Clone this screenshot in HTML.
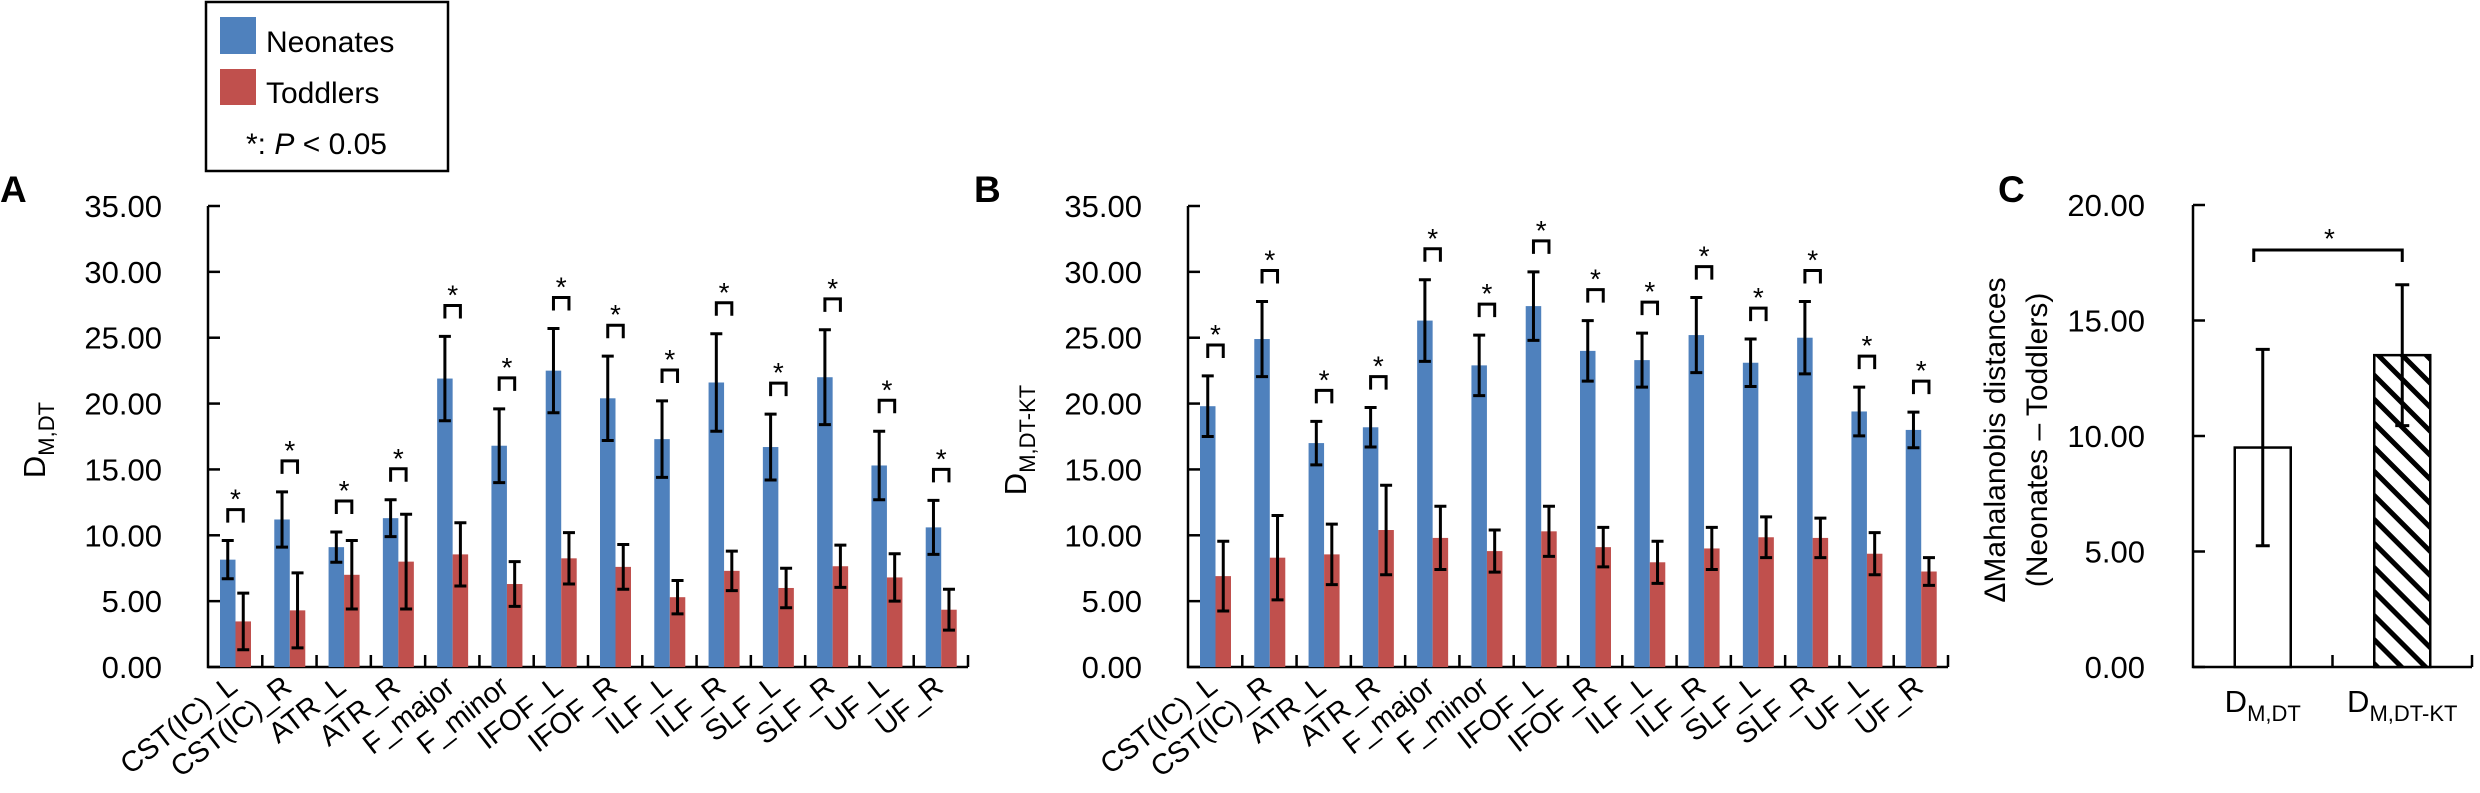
<!DOCTYPE html>
<html><head><meta charset="utf-8"><style>
html,body{margin:0;padding:0;background:#fff;}
svg{display:block;font-family:"Liberation Sans",Arial,sans-serif;}
</style></head><body>
<svg id="fig" width="2480" height="793" viewBox="0 0 2480 793" xmlns="http://www.w3.org/2000/svg">
<defs>
<pattern id="hatch" patternUnits="userSpaceOnUse" width="17" height="17" patternTransform="rotate(-45)">
<rect width="17" height="17" fill="#fff"/><rect x="0" y="0" width="5" height="17" fill="#000"/>
</pattern>
</defs>
<g>
<rect x="206" y="2" width="242" height="169" fill="#fff" stroke="#000" stroke-width="2.5"/>
<rect x="220" y="17" width="36" height="37" fill="#4f81bd"/>
<text x="266" y="52" font-size="30">Neonates</text>
<rect x="220" y="69" width="36" height="36" fill="#c0504d"/>
<text x="266" y="103" font-size="30">Toddlers</text>
<text x="246" y="154" font-size="30">*: <tspan font-style="italic">P</tspan> &lt; 0.05</text>
</g>
<g id="panels"></g>
</svg>
<script>
const tracts = ["CST(IC)_L","CST(IC)_R","ATR_L","ATR_R","F_major","F_minor","IFOF_L","IFOF_R","ILF_L","ILF_R","SLF_L","SLF_R","UF_L","UF_R"];
const yTicksAB = [0,5,10,15,20,25,30,35];
const aNeonates = [8.15,11.2,9.1,11.3,21.9,16.8,22.5,20.4,17.3,21.6,16.7,22.0,15.3,10.6];
const aNeonatesErr = [1.45,2.1,1.15,1.4,3.2,2.8,3.2,3.2,2.9,3.7,2.5,3.6,2.6,2.05];
const aToddlers = [3.46,4.3,7.0,8.0,8.55,6.3,8.25,7.6,5.3,7.3,6.0,7.65,6.8,4.35];
const aToddlersErr = [2.15,2.85,2.6,3.6,2.4,1.7,1.95,1.7,1.27,1.5,1.5,1.6,1.8,1.55];
const bNeonates = [19.8,24.9,17.0,18.2,26.3,22.9,27.4,24.0,23.3,25.2,23.1,25.0,19.4,18.0];
const bNeonatesErr = [2.3,2.85,1.65,1.5,3.1,2.3,2.6,2.3,2.05,2.85,1.8,2.75,1.85,1.35];
const bToddlers = [6.9,8.3,8.55,10.4,9.8,8.8,10.3,9.1,7.95,9.0,9.85,9.8,8.6,7.25];
const bToddlersErr = [2.65,3.2,2.3,3.4,2.4,1.6,1.9,1.5,1.6,1.6,1.55,1.5,1.6,1.05];
const cCategories = ["M,DT","M,DT-KT"];
const cValues = [9.5,13.5];
const cErr = [4.25,3.05];
const yTicksC = [0,5,10,15,20];

const NS = "http://www.w3.org/2000/svg";
const root = document.getElementById('panels');
function mk(tag, attrs, parent, text){
  const e = document.createElementNS(NS, tag);
  for (const k in attrs) e.setAttribute(k, attrs[k]);
  if (text !== undefined) e.textContent = text;
  (parent||root).appendChild(e);
  return e;
}
const Y0 = 667;

function barPanel(opt){
  const g = mk('g', {});
  
  
  const x0 = opt.x0, x1 = opt.x0 + 760;
  const yScale = v => Y0 - v * (461/35);
  const gw = (x1 - x0) / tracts.length;
  const ax = mk('path', {d:`M${x0},${yScale(35)} V${Y0} H${x1}`, fill:'none', stroke:'#000', 'stroke-width':2.5}, g);
  
  
  yTicksAB.forEach(t => {
    const y = yScale(t);
    const tk = mk('line', {x1:x0, x2:x0+12, y1:y, y2:y, stroke:'#000', 'stroke-width':2.5}, g);
    
    
    const lb = mk('text', {x:x0-46, y:y+11, 'font-size':31, 'text-anchor':'end'}, g, t.toFixed(2));
    
    
  });
  for (let i=1;i<=tracts.length;i++){
    const x = x0 + i*gw;
    const tk = mk('line', {x1:x, x2:x, y1:Y0, y2:Y0-12, stroke:'#000', 'stroke-width':2.5}, g);
    
    
  }
  const bw = 15.5;
  tracts.forEach((name, i) => {
    const gs = x0 + i*gw;
    const series = [[opt.neo[i], opt.neoErr[i], '#4f81bd', gs+12, 'bar-neonates'], [opt.tod[i], opt.todErr[i], '#c0504d', gs+12+bw, 'bar-toddlers']];
    let topMax = 0;
    const centers = [];
    series.forEach(s => {
      const [v, e, col, bx, nm] = s;
      const r = mk('rect', {x:bx, y:yScale(v), width:bw, height:Y0-yScale(v), fill:col}, g);
      
      
      const cx = bx + bw/2;
      centers.push(cx);
      const yt = yScale(v+e), yb = yScale(v-e);
      const eb = mk('path', {d:`M${cx},${yt} V${yb} M${cx-6},${yt} H${cx+6} M${cx-6},${yb} H${cx+6}`, stroke:'#000', 'stroke-width':3, fill:'none'}, g);
      
      
      topMax = Math.max(topMax, v+e);
    });
    const by = yScale(topMax + 2.35);
    const br = mk('path', {d:`M${centers[0]},${by+13} V${by} H${centers[1]} V${by+13}`, stroke:'#000', 'stroke-width':3, fill:'none'}, g);
    
    
    const st = mk('text', {x:(centers[0]+centers[1])/2, y:by-1, 'font-size':28, 'text-anchor':'middle'}, g, '*');
    
    
    const cx = gs + gw/2 + 4;
    const xl = mk('text', {x:cx, y:690, 'font-size':29, 'text-anchor':'end', transform:`rotate(-38 ${cx} 690)`}, g, name);
    
    
  });
  const pl = mk('text', {x:opt.letterX, y:202, 'font-size':37, 'font-weight':'bold'}, g, opt.letter);
  
  
  const yt = mk('text', {x:0, y:0, 'font-size':31, 'text-anchor':'middle', transform:`translate(${opt.titleX} 440) rotate(-90)`}, g);
  
  
  mk('tspan', {}, yt, 'D');
  mk('tspan', {'font-size':22, dy:9}, yt, opt.sub);
}
barPanel({name:'panel-a', x0:208, neo:aNeonates, neoErr:aNeonatesErr, tod:aToddlers, todErr:aToddlersErr, letter:'A', letterX:0, titleX:45, sub:'M,DT'});
barPanel({name:'panel-b', x0:1188, neo:bNeonates, neoErr:bNeonatesErr, tod:bToddlers, todErr:bToddlersErr, letter:'B', letterX:974, titleX:1026, sub:'M,DT-KT'});

(function(){
  const g = mk('g', {});
  
  
  const x0 = 2193, x1 = 2472;
  const yScale = v => Y0 - v * (462/20);
  const cw = (x1-x0)/cCategories.length;
  const ax = mk('path', {d:`M${x0},${yScale(20)} V${Y0} H${x1}`, fill:'none', stroke:'#000', 'stroke-width':2.5}, g);
  
  
  yTicksC.forEach(t => {
    const y = yScale(t);
    const tk = mk('line', {x1:x0, x2:x0+12, y1:y, y2:y, stroke:'#000', 'stroke-width':2.5}, g);
    
    
    const lb = mk('text', {x:2145, y:y+11, 'font-size':31, 'text-anchor':'end'}, g, t.toFixed(2));
    
    
  });
  for (let i=1;i<=cCategories.length;i++){
    const x = x0 + i*cw;
    const tk = mk('line', {x1:x, x2:x, y1:Y0, y2:Y0-12, stroke:'#000', 'stroke-width':2.5}, g);
    
    
  }
  const centers = [];
  cCategories.forEach((c, i) => {
    const cx = x0 + (i+0.5)*cw;
    centers.push(cx);
    const v = cValues[i], e = cErr[i];
    const r = mk('rect', {x:cx-28, y:yScale(v), width:56, height:Y0-yScale(v), fill: i===0 ? '#fff' : 'url(#hatch)', stroke:'#000', 'stroke-width':2.5}, g);
    
    
    const yt = yScale(v+e), yb = yScale(v-e);
    const eb = mk('path', {d:`M${cx},${yt} V${yb} M${cx-7},${yt} H${cx+7} M${cx-7},${yb} H${cx+7}`, stroke:'#000', 'stroke-width':3, fill:'none'}, g);
    
    
    const xl = mk('text', {x:cx, y:712, 'font-size':31, 'text-anchor':'middle'}, g);
    
    
    mk('tspan', {}, xl, 'D');
    mk('tspan', {'font-size':22, dy:9}, xl, c);
  });
  const br = mk('path', {d:`M${centers[0]-9},262 V250 H${centers[1]} V262`, stroke:'#000', 'stroke-width':3, fill:'none'}, g);
  
  
  const st = mk('text', {x:(centers[0]+centers[1])/2 - 3, y:248, 'font-size':28, 'text-anchor':'middle'}, g, '*');
  
  
  const pl = mk('text', {x:1998, y:202, 'font-size':37, 'font-weight':'bold'}, g, 'C');
  
  
  const t1 = mk('text', {x:0, y:0, 'font-size':30, 'text-anchor':'middle', transform:'translate(2005 440) rotate(-90)'}, g, 'ΔMahalanobis distances');
  
  
  const t2 = mk('text', {x:0, y:0, 'font-size':30, 'text-anchor':'middle', transform:'translate(2047 440) rotate(-90)'}, g, '(Neonates – Toddlers)');
  
  
})();
</script>
</body></html>
